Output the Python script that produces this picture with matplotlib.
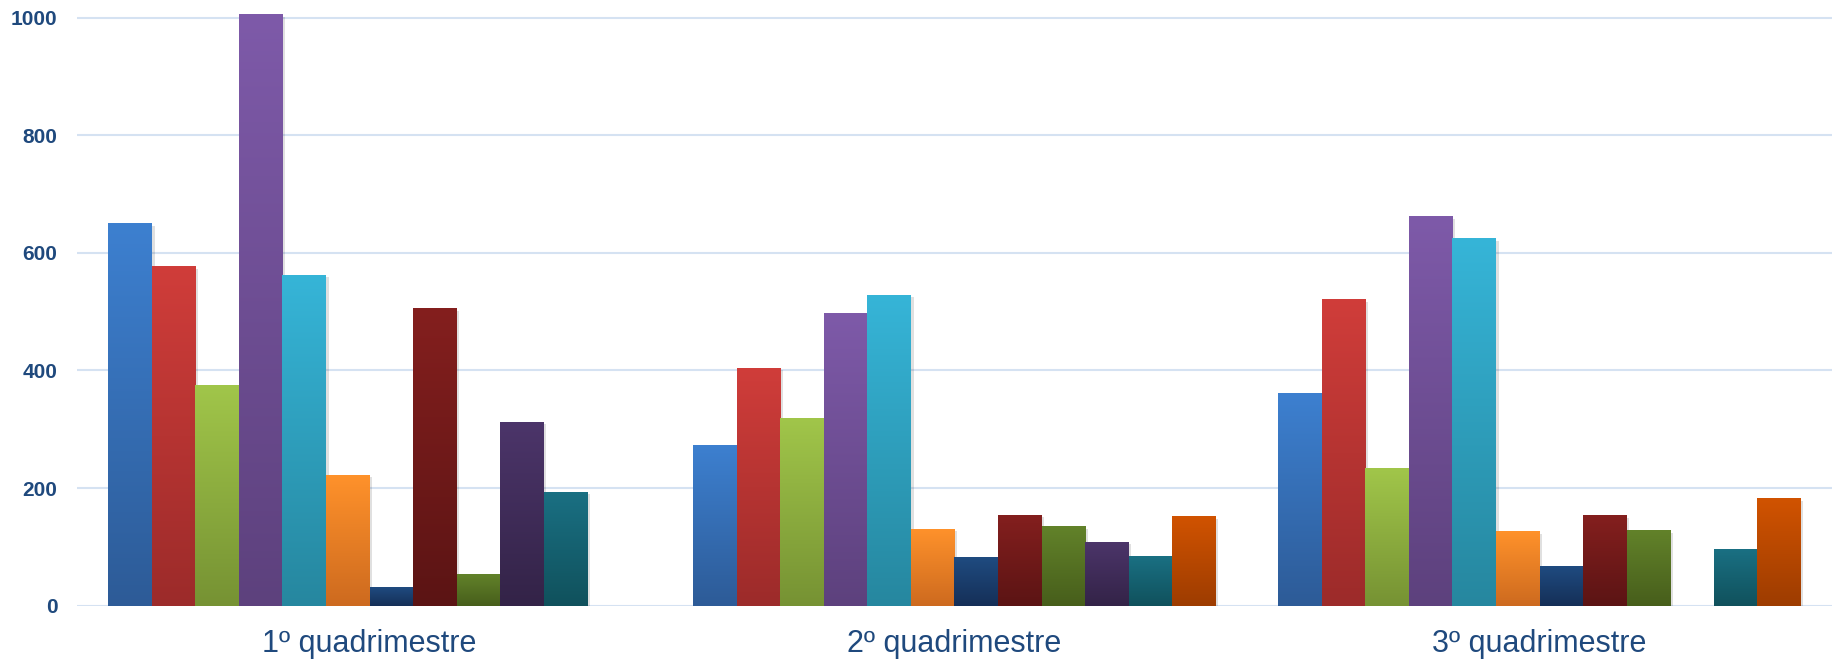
import numpy as np
import matplotlib
matplotlib.use('Agg')
import matplotlib.pyplot as plt
from matplotlib.colors import LinearSegmentedColormap
import matplotlib.patheffects as pe

# categories and values (12 series per quadrimestre, 0 = no bar)
quadrimestres = ['1º quadrimestre', '2º quadrimestre', '3º quadrimestre']
q1 = [651, 577, 376, 1006, 563, 223, 31, 506, 54, 313, 194, 0]
q2 = [274, 405, 320, 498, 529, 131, 83, 155, 136, 109, 85, 153]
q3 = [361, 521, 234, 662, 625, 127, 67, 154, 129, 0, 96, 183]
yticks = [0, 200, 400, 600, 800, 1000]

# gradient colours per series (top, bottom)
top_colors = ['#3D80D0', '#D03D3A', '#A1C64A', '#7E5AA9', '#36B5D8', '#FF922B',
              '#1F4B80', '#841F1E', '#62822A', '#4C356A', '#1A7083', '#D15300']
bottom_colors = ['#2D5B97', '#9C2B2A', '#769233', '#5D417D', '#26879F', '#CD6A1F',
                 '#152F57', '#5B1414', '#475E1B', '#332347', '#10515C', '#9D3C00']

data = np.array([q1, q2, q3])
n_series = data.shape[1]
width = 0.0744
x = np.arange(len(quadrimestres))

fig = plt.figure(figsize=(18.37, 6.6), dpi=100)
ax = fig.add_axes([77 / 1837, (660 - 605.7) / 660, (1832 - 77) / 1837, 605.7 / 660])

label_color = '#1F497D'

for i in range(n_series):
    offs = (i - (n_series - 1) / 2) * width
    vals = data[:, i]
    bars = ax.bar(x + offs, vals, width, color=bottom_colors[i], linewidth=0, zorder=3)
    cmap = LinearSegmentedColormap.from_list('g%d' % i, [bottom_colors[i], top_colors[i]])
    for b, v in zip(bars, vals):
        if v <= 0:
            b.set_visible(False)
            continue
        b.set_path_effects([pe.SimplePatchShadow(offset=(2, -2), shadow_rgbFace='#000000', alpha=0.12),
                            pe.Normal()])
        x0 = b.get_x()
        grad = np.linspace(0, 1, 256).reshape(-1, 1)
        im = ax.imshow(grad, cmap=cmap, origin='lower', aspect='auto',
                       extent=[x0, x0 + width, 0, v], zorder=3.5, interpolation='bilinear')
        im.set_clip_path(b)

ax.set_xlim(-0.5, 2.5)
ax.set_ylim(0, 1030)
ax.set_yticks(yticks)
ax.yaxis.grid(True, color='#D5E2F2', linewidth=1.5, zorder=0)
ax.set_axisbelow(True)
for s in ax.spines.values():
    s.set_visible(False)

ax.set_xticks(x)
ax.set_xticklabels(quadrimestres, fontsize=22, color=label_color, family='Liberation Sans')
ax.tick_params(axis='x', length=0, pad=17)
ax.tick_params(axis='y', length=0, pad=14)
for t in ax.get_yticklabels():
    t.set_fontsize(15)
    t.set_fontweight('bold')
    t.set_color(label_color)
    t.set_family('Liberation Sans')

fig.savefig('out.png', dpi=100, facecolor='white')
